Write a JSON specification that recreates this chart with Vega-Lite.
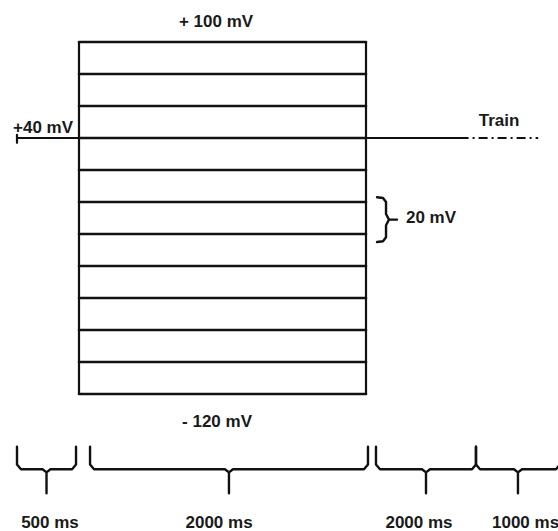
{
  "$schema": "https://vega.github.io/schema/vega-lite/v6.json",
  "width": 558,
  "height": 531,
  "autosize": {"type": "none"},
  "padding": 0,
  "background": "white",
  "config": {
    "view": {"stroke": null},
    "text": {"font": "Liberation Sans", "fontWeight": "bold", "fontSize": 17, "baseline": "alphabetic", "color": "#1a1a1a"}
  },
  "datasets": {
    "segments": [
      {"kind": "step", "t0": 500, "t1": 2500, "v0": 100, "v1": 100},
      {"kind": "step", "t0": 500, "t1": 2500, "v0": 80, "v1": 80},
      {"kind": "step", "t0": 500, "t1": 2500, "v0": 60, "v1": 60},
      {"kind": "step", "t0": 500, "t1": 2500, "v0": 40, "v1": 40},
      {"kind": "step", "t0": 500, "t1": 2500, "v0": 20, "v1": 20},
      {"kind": "step", "t0": 500, "t1": 2500, "v0": 0, "v1": 0},
      {"kind": "step", "t0": 500, "t1": 2500, "v0": -20, "v1": -20},
      {"kind": "step", "t0": 500, "t1": 2500, "v0": -40, "v1": -40},
      {"kind": "step", "t0": 500, "t1": 2500, "v0": -60, "v1": -60},
      {"kind": "step", "t0": 500, "t1": 2500, "v0": -80, "v1": -80},
      {"kind": "step", "t0": 500, "t1": 2500, "v0": -100, "v1": -100},
      {"kind": "step", "t0": 500, "t1": 2500, "v0": -120, "v1": -120},
      {"kind": "edge", "t0": 500, "t1": 500, "v0": -120, "v1": 100},
      {"kind": "edge", "t0": 2500, "t1": 2500, "v0": -120, "v1": 100},
      {"kind": "hold", "t0": 0, "t1": 4300, "v0": 40, "v1": 40},
      {"kind": "hold", "t0": 0, "t1": 0, "v0": 42, "v1": 37},
      {"kind": "train", "t0": 4300, "t1": 5275, "v0": 40, "v1": 40}
    ],
    "braces": [
      {"id": "b500", "i": 1, "t": 0, "mV": -153},
      {"id": "b500", "i": 2, "t": 0, "mV": -164},
      {"id": "b500", "i": 3, "t": 32, "mV": -167},
      {"id": "b500", "i": 4, "t": 206, "mV": -167},
      {"id": "b500", "i": 5, "t": 238, "mV": -169},
      {"id": "b500", "i": 6, "t": 238, "mV": -182},
      {"id": "b500", "i": 7, "t": 238, "mV": -169},
      {"id": "b500", "i": 8, "t": 270, "mV": -167},
      {"id": "b500", "i": 9, "t": 444, "mV": -167},
      {"id": "b500", "i": 10, "t": 476, "mV": -164},
      {"id": "b500", "i": 11, "t": 476, "mV": -153},
      {"id": "b2000a", "i": 1, "t": 577, "mV": -153},
      {"id": "b2000a", "i": 2, "t": 577, "mV": -164},
      {"id": "b2000a", "i": 3, "t": 605, "mV": -167},
      {"id": "b2000a", "i": 4, "t": 1517, "mV": -167},
      {"id": "b2000a", "i": 5, "t": 1545, "mV": -169},
      {"id": "b2000a", "i": 6, "t": 1545, "mV": -182},
      {"id": "b2000a", "i": 7, "t": 1545, "mV": -169},
      {"id": "b2000a", "i": 8, "t": 1573, "mV": -167},
      {"id": "b2000a", "i": 9, "t": 2486, "mV": -167},
      {"id": "b2000a", "i": 10, "t": 2538, "mV": -164},
      {"id": "b2000a", "i": 11, "t": 2538, "mV": -153},
      {"id": "b2000b", "i": 1, "t": 2692, "mV": -153},
      {"id": "b2000b", "i": 2, "t": 2692, "mV": -164},
      {"id": "b2000b", "i": 3, "t": 2769, "mV": -167},
      {"id": "b2000b", "i": 4, "t": 3577, "mV": -167},
      {"id": "b2000b", "i": 5, "t": 3654, "mV": -169},
      {"id": "b2000b", "i": 6, "t": 3654, "mV": -182},
      {"id": "b2000b", "i": 7, "t": 3654, "mV": -169},
      {"id": "b2000b", "i": 8, "t": 3731, "mV": -167},
      {"id": "b2000b", "i": 9, "t": 4523, "mV": -167},
      {"id": "b2000b", "i": 10, "t": 4568, "mV": -164},
      {"id": "b2000b", "i": 11, "t": 4568, "mV": -153},
      {"id": "b1000", "i": 1, "t": 4568, "mV": -153},
      {"id": "b1000", "i": 2, "t": 4568, "mV": -164},
      {"id": "b1000", "i": 3, "t": 4614, "mV": -167},
      {"id": "b1000", "i": 4, "t": 5000, "mV": -167},
      {"id": "b1000", "i": 5, "t": 5045, "mV": -169},
      {"id": "b1000", "i": 6, "t": 5045, "mV": -182},
      {"id": "b1000", "i": 7, "t": 5045, "mV": -169},
      {"id": "b1000", "i": 8, "t": 5091, "mV": -167},
      {"id": "b1000", "i": 9, "t": 5477, "mV": -167},
      {"id": "b1000", "i": 10, "t": 5523, "mV": -164},
      {"id": "b1000", "i": 11, "t": 5523, "mV": -153},
      {"id": "step20", "i": 1, "t": 2712, "mV": 3},
      {"id": "step20", "i": 2, "t": 2827, "mV": 2.5},
      {"id": "step20", "i": 3, "t": 2885, "mV": 0},
      {"id": "step20", "i": 4, "t": 2885, "mV": -7.5},
      {"id": "step20", "i": 5, "t": 2942, "mV": -11},
      {"id": "step20", "i": 6, "t": 3096, "mV": -11},
      {"id": "step20", "i": 7, "t": 2942, "mV": -11},
      {"id": "step20", "i": 8, "t": 2885, "mV": -14.5},
      {"id": "step20", "i": 9, "t": 2885, "mV": -22},
      {"id": "step20", "i": 10, "t": 2827, "mV": -24.5},
      {"id": "step20", "i": 11, "t": 2712, "mV": -25}
    ],
    "labels": [
      {"text": "+ 100 mV", "t": 1455, "mV": 109.4, "align": "center"},
      {"text": "+40 mV", "t": 210, "mV": 43.1, "align": "center"},
      {"text": "Train", "t": 4830, "mV": 47.5, "align": "center"},
      {"text": "20 mV", "t": 3269, "mV": -13.1, "align": "left"},
      {"text": "- 120 mV", "t": 1462, "mV": -140.6, "align": "center"},
      {"text": "500 ms", "t": 266, "mV": -203.75, "align": "center"},
      {"text": "2000 ms", "t": 1476, "mV": -203.75, "align": "center"},
      {"text": "2000 ms", "t": 3519, "mV": -203.75, "align": "center"},
      {"text": "1000 ms", "t": 4750, "mV": -203.75, "align": "left"}
    ]
  },
  "layer": [
    {
      "data": {"name": "segments"},
      "transform": [{"filter": "datum.kind === 'step'"}],
      "mark": {"type": "rule", "stroke": "#111", "strokeWidth": 2.6, "strokeCap": "round"},
      "encoding": {
        "x": {"field": "t0", "type": "quantitative", "axis": null,
              "scale": {"domain": [0, 500, 2500, 4500, 5500], "range": [17, 79, 366, 470, 558], "nice": false, "zero": false}},
        "x2": {"field": "t1"},
        "y": {"field": "v0", "type": "quantitative", "axis": null,
              "scale": {"domain": [-120, 100], "range": [394, 42], "nice": false, "zero": false}},
        "y2": {"field": "v1"}
      }
    },
    {
      "data": {"name": "segments"},
      "transform": [{"filter": "datum.kind === 'edge' || datum.kind === 'hold'"}],
      "mark": {"type": "rule", "stroke": "#111", "strokeWidth": 2.2, "strokeCap": "round"},
      "encoding": {
        "x": {"field": "t0", "type": "quantitative"},
        "x2": {"field": "t1"},
        "y": {"field": "v0", "type": "quantitative"},
        "y2": {"field": "v1"}
      }
    },
    {
      "data": {"name": "segments"},
      "transform": [{"filter": "datum.kind === 'train'"}],
      "mark": {"type": "rule", "stroke": "#111", "strokeWidth": 2.2, "strokeDash": [9, 4, 2, 4]},
      "encoding": {
        "x": {"field": "t0", "type": "quantitative"},
        "x2": {"field": "t1"},
        "y": {"field": "v0", "type": "quantitative"},
        "y2": {"field": "v1"}
      }
    },
    {
      "data": {"name": "braces"},
      "mark": {"type": "line", "stroke": "#111", "strokeWidth": 2.4, "strokeJoin": "round", "strokeCap": "round"},
      "encoding": {
        "x": {"field": "t", "type": "quantitative"},
        "y": {"field": "mV", "type": "quantitative"},
        "detail": {"field": "id"},
        "order": {"field": "i", "type": "quantitative"}
      }
    },
    {
      "data": {"name": "labels"},
      "transform": [{"filter": "datum.align === 'center'"}],
      "mark": {"type": "text", "align": "center"},
      "encoding": {
        "x": {"field": "t", "type": "quantitative"},
        "y": {"field": "mV", "type": "quantitative"},
        "text": {"field": "text"}
      }
    },
    {
      "data": {"name": "labels"},
      "transform": [{"filter": "datum.align === 'left'"}],
      "mark": {"type": "text", "align": "left"},
      "encoding": {
        "x": {"field": "t", "type": "quantitative"},
        "y": {"field": "mV", "type": "quantitative"},
        "text": {"field": "text"}
      }
    }
  ]
}
